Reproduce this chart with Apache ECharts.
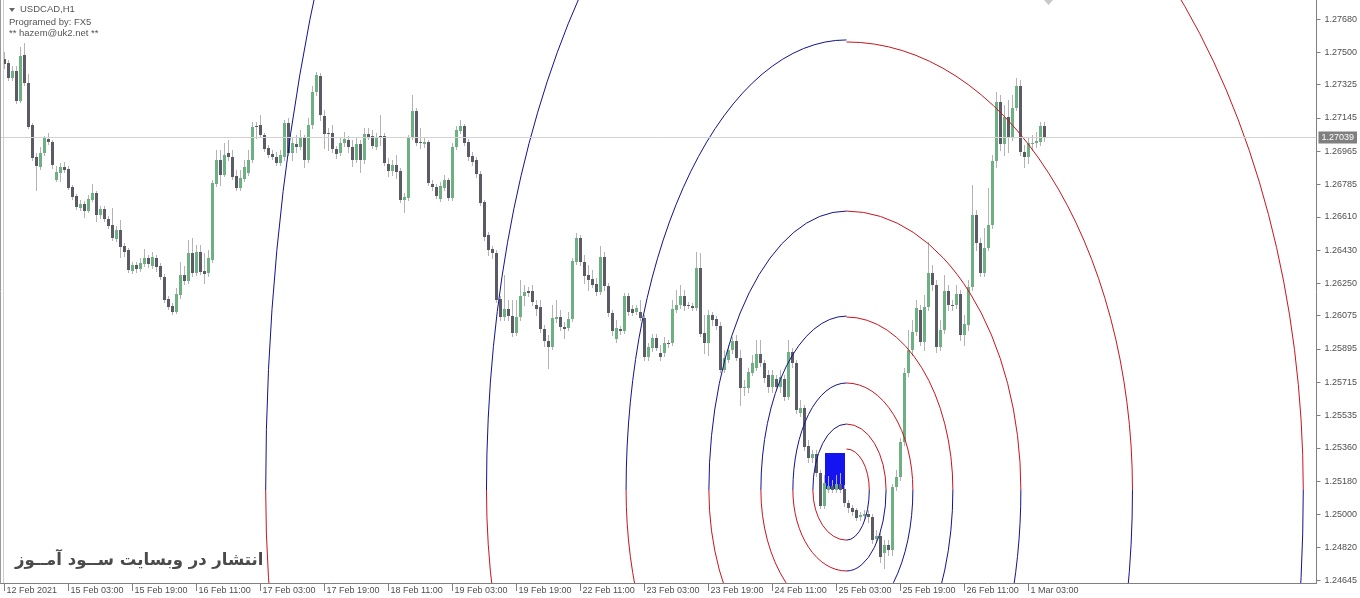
<!DOCTYPE html>
<html dir="ltr"><head><meta charset="utf-8">
<script src="https://cdn.jsdelivr.net/npm/echarts@6/dist/echarts.min.js"></script>
<style>html,body{margin:0;padding:0;background:#fff}#c{width:1360px;height:598px}</style>
</head><body><div id="c"></div>
<script>
// ---- data (USDCAD H1, bar 0 = 12 Feb 2021 11:00) ----
const opens = [
1.27464,1.27442,1.27361,1.27399,1.27237,1.27485,1.27334,1.27107,1.26934,1.26880,
1.26955,1.27031,1.27015,1.26809,1.26847,1.26880,1.26869,1.26771,1.26723,1.26658,
1.26679,1.26641,1.26701,1.26739,1.26620,1.26652,1.26598,1.26566,1.26490,1.26539,
1.26452,1.26431,1.26317,1.26349,1.26328,1.26355,1.26387,1.26344,1.26387,1.26344,
1.26284,1.26165,1.26128,1.26095,1.26187,1.26295,1.26263,1.26414,1.26306,1.26420,
1.26317,1.26306,1.26376,1.26788,1.26917,1.26836,1.26955,1.26934,1.26831,1.26766,
1.26815,1.26847,1.26917,1.27101,1.27107,1.27053,1.26982,1.26950,1.26934,1.26901,
1.26934,1.27118,1.26955,1.27004,1.26988,1.27036,1.26917,1.27107,1.27285,1.27372,
1.27155,1.27063,1.27063,1.26977,1.26955,1.27009,1.27026,1.26988,1.26917,1.27004,
1.26917,1.27058,1.27047,1.26988,1.27047,1.27047,1.26896,1.26858,1.26890,1.26858,
1.26701,1.26712,1.27042,1.27182,1.27015,1.27004,1.27015,1.26788,1.26771,1.26706,
1.26766,1.26809,1.26712,1.26988,1.27074,1.27101,1.27015,1.26939,1.26917,1.26842,
1.26690,1.26512,1.26436,1.26414,1.26165,1.26068,1.26111,1.26073,1.25981,1.26068,
1.26182,1.26209,1.26209,1.26133,1.26122,1.26003,1.25938,1.25906,1.26057,1.26068,
1.26014,1.26009,1.26057,1.26366,1.26495,1.26366,1.26295,1.26274,1.26247,1.26203,
1.26393,1.26236,1.26090,1.25949,1.26003,1.25992,1.26182,1.26111,1.26095,1.26095,
1.26063,1.25852,1.25900,1.25954,1.25873,1.25873,1.25927,1.25927,1.26106,1.26133,
1.26182,1.26133,1.26128,1.26117,1.26333,1.25981,1.25927,1.26079,1.26057,1.26019,
1.25781,1.25835,1.25890,1.25938,1.25846,1.25684,1.25684,1.25765,1.25792,1.25868,
1.25819,1.25754,1.25689,1.25733,1.25689,1.25733,1.25635,1.25879,1.25819,1.25549,
1.25576,1.25370,1.25305,1.25327,1.25224,1.25046,1.25132,1.25154,1.25132,1.25165,
1.25138,1.25062,1.25035,1.25024,1.24986,1.24991,1.25002,1.24986,1.24867,1.24883,
1.24791,1.24835,1.24808,1.25148,1.25202,1.25392,1.25765,1.25890,1.25987,1.26106,
1.25933,1.26122,1.26306,1.26241,1.25906,1.25998,1.26209,1.26133,1.26133,1.26192,
1.25971,1.26025,1.26230,1.26620,1.26468,1.26306,1.26441,1.26566,1.26912,1.27231,
1.27004,1.27150,1.27042,1.27199,1.27318,1.26961,1.26934,1.27004,1.27009,1.27015,
1.27101];
const highs = [
1.27502,1.27458,1.27426,1.27426,1.27529,1.27550,1.27383,1.27118,1.26955,1.26988,
1.27047,1.27063,1.27026,1.26885,1.26901,1.26907,1.26885,1.26782,1.26733,1.26701,
1.26696,1.26728,1.26788,1.26750,1.26669,1.26669,1.26614,1.26658,1.26560,1.26593,
1.26468,1.26441,1.26366,1.26366,1.26387,1.26436,1.26403,1.26420,1.26403,1.26360,
1.26301,1.26182,1.26144,1.26225,1.26366,1.26344,1.26485,1.26495,1.26458,1.26458,
1.26414,1.26431,1.26809,1.26972,1.26972,1.27009,1.27026,1.26972,1.26863,1.26863,
1.26917,1.26972,1.27123,1.27123,1.27161,1.27063,1.26999,1.26972,1.26961,1.26972,
1.27134,1.27145,1.27036,1.27053,1.27080,1.27053,1.27145,1.27318,1.27393,1.27388,
1.27188,1.27091,1.27107,1.26993,1.27036,1.27069,1.27047,1.27026,1.27036,1.27026,
1.27091,1.27091,1.27080,1.27063,1.27161,1.27063,1.26928,1.26917,1.26944,1.26874,
1.26739,1.27053,1.27269,1.27199,1.27091,1.27042,1.27026,1.26809,1.26788,1.26798,
1.26836,1.26820,1.27009,1.27101,1.27134,1.27112,1.27031,1.26961,1.26934,1.26858,
1.26701,1.26528,1.26452,1.26431,1.26182,1.26295,1.26160,1.26160,1.26160,1.26268,
1.26241,1.26230,1.26241,1.26160,1.26160,1.26025,1.25971,1.26133,1.26160,1.26106,
1.26041,1.26095,1.26387,1.26522,1.26512,1.26403,1.26349,1.26322,1.26279,1.26452,
1.26420,1.26252,1.26106,1.26052,1.26019,1.26198,1.26198,1.26133,1.26133,1.26160,
1.26079,1.25927,1.25976,1.25976,1.25917,1.25960,1.25944,1.26160,1.26214,1.26241,
1.26214,1.26149,1.26144,1.26420,1.26414,1.26079,1.26106,1.26095,1.26073,1.26041,
1.25890,1.25917,1.25960,1.25971,1.25890,1.25727,1.25792,1.25862,1.25944,1.25944,
1.25835,1.25781,1.25781,1.25754,1.25781,1.25754,1.25944,1.25900,1.25835,1.25619,
1.25592,1.25403,1.25349,1.25349,1.25240,1.25213,1.25208,1.25186,1.25213,1.25224,
1.25159,1.25078,1.25051,1.25035,1.25013,1.25024,1.25024,1.25002,1.24916,1.24899,
1.24862,1.24862,1.25165,1.25240,1.25413,1.25792,1.25998,1.26052,1.26160,1.26133,
1.26187,1.26474,1.26349,1.26268,1.26052,1.26295,1.26241,1.26160,1.26241,1.26214,
1.26079,1.26268,1.26782,1.26647,1.26495,1.26550,1.26766,1.26944,1.27285,1.27269,
1.27215,1.27242,1.27269,1.27361,1.27350,1.26999,1.27042,1.27053,1.27069,1.27123,
1.27123];
const lows = [
1.27415,1.27350,1.27350,1.27226,1.27231,1.27323,1.27091,1.26917,1.26755,1.26869,
1.26944,1.27004,1.26874,1.26804,1.26804,1.26852,1.26761,1.26706,1.26652,1.26647,
1.26609,1.26636,1.26696,1.26587,1.26604,1.26587,1.26550,1.26485,1.26479,1.26393,
1.26398,1.26311,1.26306,1.26311,1.26317,1.26344,1.26339,1.26333,1.26317,1.26274,
1.26149,1.26111,1.26084,1.26090,1.26171,1.26247,1.26252,1.26290,1.26295,1.26301,
1.26252,1.26290,1.26366,1.26777,1.26782,1.26831,1.26917,1.26815,1.26755,1.26755,
1.26804,1.26836,1.26907,1.27036,1.27042,1.26966,1.26934,1.26923,1.26890,1.26890,
1.26917,1.26944,1.26917,1.26961,1.26977,1.26880,1.26907,1.27091,1.27269,1.27134,
1.26982,1.26972,1.26961,1.26928,1.26944,1.26993,1.26961,1.26885,1.26907,1.26852,
1.26901,1.27031,1.26982,1.26977,1.26999,1.26890,1.26831,1.26836,1.26820,1.26690,
1.26636,1.26701,1.27031,1.26999,1.26982,1.26988,1.26782,1.26755,1.26712,1.26696,
1.26755,1.26701,1.26701,1.26977,1.27063,1.26999,1.26917,1.26890,1.26825,1.26674,
1.26485,1.26403,1.26387,1.26149,1.26052,1.26052,1.26052,1.25965,1.25971,1.26052,
1.26133,1.26182,1.26133,1.26079,1.25987,1.25911,1.25792,1.25895,1.26041,1.25998,
1.25954,1.25998,1.26046,1.26355,1.26349,1.26252,1.26214,1.26230,1.26187,1.26192,
1.26214,1.26073,1.25971,1.25933,1.25976,1.25981,1.26079,1.26079,1.26084,1.26052,
1.25835,1.25835,1.25884,1.25890,1.25835,1.25857,1.25906,1.25917,1.26095,1.26117,
1.26106,1.26117,1.26106,1.26106,1.25965,1.25873,1.25862,1.26025,1.26003,1.25770,
1.25770,1.25825,1.25873,1.25835,1.25592,1.25646,1.25662,1.25754,1.25781,1.25803,
1.25716,1.25662,1.25662,1.25673,1.25662,1.25619,1.25624,1.25798,1.25549,1.25532,
1.25349,1.25284,1.25284,1.25208,1.25035,1.25035,1.25121,1.25121,1.25121,1.25121,
1.25046,1.25013,1.24997,1.24970,1.24970,1.24975,1.24959,1.24845,1.24851,1.24743,
1.24710,1.24780,1.24780,1.25132,1.25186,1.25376,1.25749,1.25862,1.25971,1.25917,
1.25890,1.26106,1.26214,1.25879,1.25890,1.25981,1.26106,1.26106,1.26117,1.25944,
1.25917,1.25998,1.26214,1.26431,1.26290,1.26290,1.26431,1.26550,1.26880,1.26972,
1.26944,1.26961,1.27026,1.27188,1.26944,1.26880,1.26901,1.26972,1.26988,1.26999,
1.27020];
const closes = [
1.27437,1.27361,1.27399,1.27237,1.27480,1.27334,1.27096,1.26928,1.26885,1.26955,
1.27036,1.27015,1.26890,1.26852,1.26880,1.26863,1.26766,1.26717,1.26663,1.26679,
1.26641,1.26706,1.26739,1.26620,1.26652,1.26598,1.26560,1.26495,1.26539,1.26447,
1.26420,1.26322,1.26349,1.26328,1.26360,1.26387,1.26355,1.26393,1.26339,1.26284,
1.26160,1.26122,1.26095,1.26192,1.26295,1.26263,1.26414,1.26306,1.26420,1.26311,
1.26301,1.26387,1.26793,1.26917,1.26836,1.26944,1.26934,1.26825,1.26766,1.26820,
1.26880,1.26917,1.27096,1.27096,1.27053,1.26977,1.26944,1.26934,1.26901,1.26944,
1.27118,1.26955,1.27009,1.26988,1.27036,1.26917,1.27107,1.27285,1.27377,1.27161,
1.27058,1.27058,1.26977,1.26950,1.27009,1.27031,1.26988,1.26917,1.27004,1.26917,
1.27058,1.27042,1.26993,1.27042,1.27036,1.26901,1.26858,1.26890,1.26852,1.26701,
1.26717,1.27042,1.27182,1.27009,1.27009,1.27015,1.26793,1.26771,1.26723,1.26777,
1.26809,1.26712,1.26988,1.27080,1.27101,1.27009,1.26934,1.26907,1.26842,1.26685,
1.26501,1.26431,1.26414,1.26160,1.26068,1.26111,1.26073,1.25981,1.26068,1.26182,
1.26203,1.26198,1.26149,1.26111,1.26003,1.25938,1.25906,1.26063,1.26068,1.26014,
1.26003,1.26057,1.26371,1.26495,1.26366,1.26290,1.26268,1.26241,1.26203,1.26393,
1.26236,1.26090,1.25992,1.26009,1.25992,1.26182,1.26095,1.26090,1.26117,1.26063,
1.25852,1.25906,1.25954,1.25900,1.25852,1.25927,1.25922,1.26111,1.26133,1.26182,
1.26128,1.26128,1.26117,1.26333,1.25976,1.25927,1.26079,1.26052,1.26019,1.25781,
1.25846,1.25890,1.25938,1.25846,1.25684,1.25689,1.25770,1.25819,1.25868,1.25819,
1.25738,1.25689,1.25754,1.25689,1.25743,1.25635,1.25879,1.25819,1.25565,1.25576,
1.25365,1.25305,1.25327,1.25224,1.25046,1.25170,1.25154,1.25132,1.25165,1.25132,
1.25062,1.25035,1.25013,1.24981,1.24997,1.25002,1.24986,1.24862,1.24883,1.24770,
1.24835,1.24808,1.25148,1.25202,1.25392,1.25765,1.25890,1.25987,1.26117,1.25933,
1.26122,1.26306,1.26241,1.25906,1.25998,1.26209,1.26133,1.26128,1.26192,1.25971,
1.26030,1.26230,1.26620,1.26468,1.26306,1.26441,1.26566,1.26912,1.27231,1.27004,
1.27150,1.27042,1.27199,1.27318,1.26961,1.26934,1.27009,1.27009,1.27020,1.27101,
1.27039];

// time-axis ticks (bar index -> label)
const xTickBars = [0,16,32,48,64,80,96,112,128,144,160,176,192,208,224,240,256];
const xTickLabels = ['12 Feb 2021','15 Feb 03:00','15 Feb 19:00','16 Feb 11:00','17 Feb 03:00',
  '17 Feb 19:00','18 Feb 11:00','19 Feb 03:00','19 Feb 19:00','22 Feb 11:00','23 Feb 03:00',
  '23 Feb 19:00','24 Feb 11:00','25 Feb 03:00','25 Feb 19:00','26 Feb 11:00','1 Mar 03:00'];
// price-axis ticks
const yTickValues = [1.24645,1.24820,1.25000,1.25180,1.25360,1.25535,1.25715,1.25895,1.26075,
  1.26250,1.26430,1.26610,1.26785,1.26965,1.27145,1.27325,1.27500,1.27680];
const lastPrice = 1.27039;

// Fibonacci-style arcs: common centre (bar, price), per-ring radii
const arcCenter = [210.5, 1.25132];
const arcLeftBars  = [8.4, 13.4, 21.4, 34.4, 55.1, 90.0, 145.2];
const arcRightBars = [5.7, 9.9, 16.6, 26.6, 43.6, 71.5, 114.2];
const arcUpLeft    = [0.00357, 0.00579, 0.00941, 0.01509, 0.02435, 0.03976, 0.06650];
const arcUpRight   = [0.00222, 0.00357, 0.00579, 0.00936, 0.01509, 0.02424, 0.03895];
const arcDown      = [0.00271, 0.00438, 0.00709, 0.01131, 0.01839, 0.02992, 0.04842];

// rectangle object
const boxBars = [205.2, 210.2];
const boxPrices = [1.25137, 1.25332];

// ---- chart ----
const BULL = '#6db182', BEAR = '#5b5b65', WICK = '#b3b3b3';
const ARC_BLUE = '#12128f', ARC_RED = '#c8141e';
const FONT = '"Liberation Sans", Arial, sans-serif';
const candleData = opens.map((o, i) => [i, o, highs[i], lows[i], closes[i]]);

function renderCandle(params, api) {
  const i = api.value(0);
  const o = api.coord([i, api.value(1)]);
  const h = api.coord([i, api.value(2)]);
  const l = api.coord([i, api.value(3)]);
  const c = api.coord([i, api.value(4)]);
  const x = Math.floor(o[0]) + 0.5;
  const up = api.value(4) > api.value(1);
  const yTop = Math.round(Math.min(o[1], c[1]));
  const yBot = Math.round(Math.max(o[1], c[1]));
  return {type: 'group', children: [
    {type: 'line', shape: {x1: x, y1: Math.round(h[1]), x2: x, y2: Math.round(l[1]) + 1},
     style: {stroke: WICK, lineWidth: 1}},
    {type: 'rect', shape: {x: x - 1.5, y: yTop, width: 3, height: Math.max(1, yBot - yTop)},
     style: {fill: up ? BULL : BEAR}}
  ]};
}

function renderArc(params, api) {
  const k = params.dataIndex;
  const c = api.coord(arcCenter);
  const cx = c[0], cy = c[1];
  const sL = api.size([arcLeftBars[k], arcUpLeft[k]]);
  const sR = api.size([arcRightBars[k], arcUpRight[k]]);
  const sD = api.size([arcRightBars[k], arcDown[k]]);
  const rL = sL[0], rUL = sL[1], rR = sR[0], rUR = sR[1], rD = sD[1];
  const mk = (d, col) => ({type: 'path', shape: {pathData: d},
    style: {stroke: col, fill: 'none', lineWidth: 1}});
  return {type: 'group', children: [
    mk(`M${cx - rL} ${cy} A${rL} ${rUL} 0 0 1 ${cx} ${cy - rUL}`, ARC_BLUE),
    mk(`M${cx} ${cy - rUR} A${rR} ${rUR} 0 0 1 ${cx + rR} ${cy}`, ARC_RED),
    mk(`M${cx + rR} ${cy} A${rR} ${rD} 0 0 1 ${cx} ${cy + rD}`, ARC_BLUE),
    mk(`M${cx} ${cy + rD} A${rL} ${rD} 0 0 1 ${cx - rL} ${cy}`, ARC_RED)
  ]};
}

function renderBox(params, api) {
  const p1 = api.coord([boxBars[0], boxPrices[1]]);
  const p2 = api.coord([boxBars[1], boxPrices[0]]);
  return {type: 'rect', shape: {x: Math.round(p1[0]), y: Math.round(p1[1]),
    width: Math.round(p2[0] - p1[0]), height: Math.round(p2[1] - p1[1])},
    style: {fill: '#1414f0'}};
}

const chart = echarts.init(document.getElementById('c'), null, {renderer: 'canvas'});
chart.setOption({
  animation: false,
  backgroundColor: '#ffffff',
  grid: {left: 0.5, right: 43.5, top: 0, bottom: 15, containLabel: false},
  xAxis: {
    type: 'value', min: -1, max: 328,
    axisLine: {show: true, onZero: false, lineStyle: {color: '#808080', width: 1}},
    axisTick: {show: true, customValues: xTickBars, length: 8, lineStyle: {color: '#808080'}},
    axisLabel: {show: true, customValues: xTickBars, align: 'left', margin: 3,
      padding: [0, 0, 0, 2], color: '#4f4f4f', fontSize: 9, fontFamily: FONT,
      formatter: v => xTickLabels[xTickBars.indexOf(Math.round(v))] || ''},
    splitLine: {show: false}
  },
  yAxis: {
    type: 'value', position: 'right', min: 1.24629, max: 1.27783,
    axisLine: {show: true, onZero: false, lineStyle: {color: '#808080', width: 1}},
    axisTick: {show: true, customValues: yTickValues, length: 4, lineStyle: {color: '#808080'}},
    axisLabel: {show: true, customValues: yTickValues, margin: 8, color: '#4f4f4f',
      fontSize: 9, fontFamily: FONT, formatter: v => v.toFixed(5)},
    splitLine: {show: false}
  },
  series: [
    {type: 'line', z: 1, data: [[260, lastPrice]], symbol: 'none', lineStyle: {width: 0},
     silent: true,
     markLine: {silent: true, precision: 5, symbol: ['none', 'none'], animation: false,
       lineStyle: {color: '#d2d2d2', width: 1, type: 'solid'},
       label: {show: true, position: 'end', distance: 2, formatter: lastPrice.toFixed(5),
         color: '#ffffff', backgroundColor: '#7f7f7f', padding: [2, 3, 1, 3],
         fontSize: 9, fontFamily: FONT},
       data: [{yAxis: lastPrice}]}},
    {type: 'custom', z: 2, data: [[boxBars[0], boxPrices[0]]], encode: {x: 0, y: 1},
     renderItem: renderBox, silent: true},
    {type: 'custom', z: 3, data: candleData, encode: {x: 0, y: [1, 2, 3, 4]},
     renderItem: renderCandle, silent: true},
    {type: 'custom', z: 4, clip: true, data: arcLeftBars.map(() => arcCenter.slice()),
     encode: {x: 0, y: 1}, renderItem: renderArc, silent: true}
  ],
  graphic: [
    {type: 'line', shape: {x1: 0.5, y1: 0, x2: 0.5, y2: 583}, style: {stroke: '#9a9a9a', lineWidth: 1}, z: 10},
    {type: 'line', shape: {x1: 3.5, y1: 0, x2: 3.5, y2: 583}, style: {stroke: '#cdcdcd', lineWidth: 1}, z: 10},
    {type: 'polygon', shape: {points: [[1044, 0], [1053, 0], [1048.5, 5]]}, style: {fill: '#c8c8c8'}, z: 10},
    {type: 'polygon', shape: {points: [[9, 8], [15, 8], [12, 12]]}, style: {fill: '#666666'}, z: 10},
    {type: 'text', x: 20, y: 9.5, z: 10, style: {text: 'USDCAD,H1', font: '9.5px ' + FONT, fill: '#555555', verticalAlign: 'middle'}},
    {type: 'text', x: 9, y: 22.5, z: 10, style: {text: 'Programed by: FX5', font: '9.5px ' + FONT, fill: '#555555', verticalAlign: 'middle'}},
    {type: 'text', x: 9, y: 33.5, z: 10, style: {text: '** hazem@uk2.net **', font: '9.5px ' + FONT, fill: '#555555', verticalAlign: 'middle'}},
    {type: 'text', x: 15, y: 561, z: 10, style: {text: 'انتشار در وبسایت ســود آمــوز', font: 'bold 16.5px "DejaVu Sans"', fill: '#4a4a4a', verticalAlign: 'middle'}}
  ]
});
</script>
</body></html>
